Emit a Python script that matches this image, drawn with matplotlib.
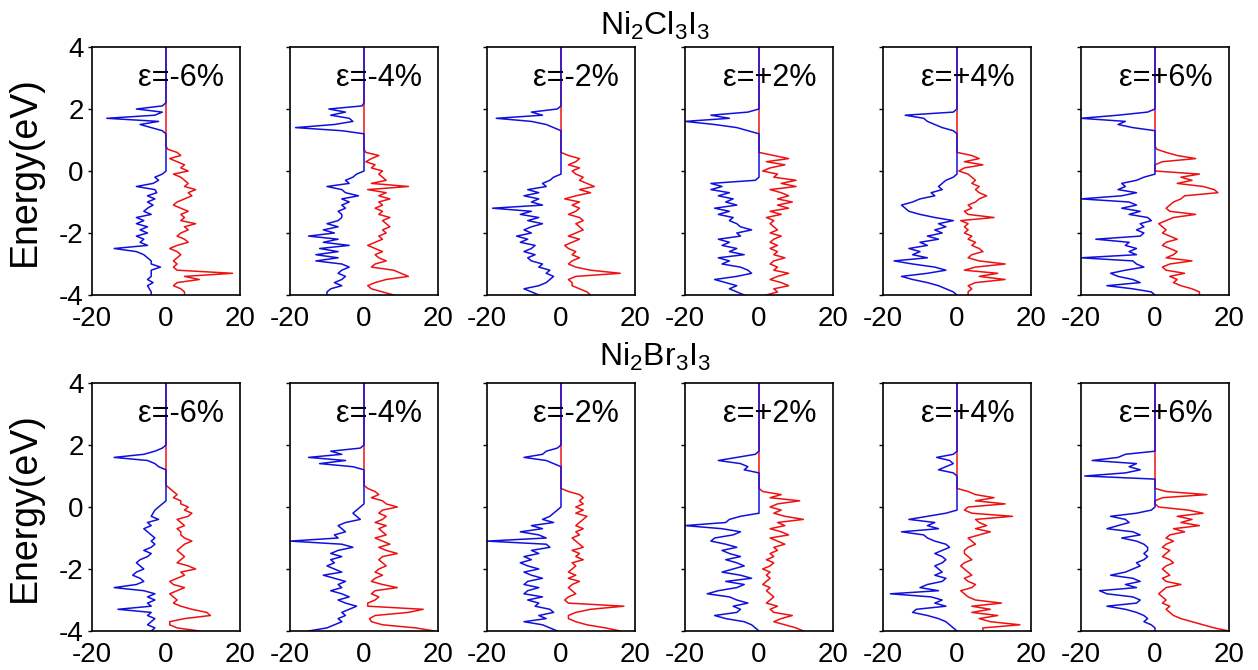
import numpy as np
import matplotlib.pyplot as plt

plt.rcParams['font.family'] = ['Liberation Sans', 'DejaVu Sans']
plt.rcParams['mathtext.default'] = 'regular'
plt.rcParams['axes.unicode_minus'] = False

## Energy grids (eV) ##
# conduction part 2.2 -> 0.8, valence part 0.7 -> -4.0 (step 0.1)
energy_cb = [2.2, 2.1, 2.0, 1.9, 1.8, 1.7, 1.6, 1.5, 1.4, 1.3, 1.2, 1.1, 1.0, 0.9, 0.8]
energy_vb = [0.7, 0.6, 0.5, 0.4, 0.3, 0.2, 0.1, 0.0,
             -0.1, -0.2, -0.3, -0.4, -0.5, -0.6, -0.7, -0.8, -0.9, -1.0,
             -1.1, -1.2, -1.3, -1.4, -1.5, -1.6, -1.7, -1.8, -1.9, -2.0,
             -2.1, -2.2, -2.3, -2.4, -2.5, -2.6, -2.7, -2.8, -2.9, -3.0,
             -3.1, -3.2, -3.3, -3.4, -3.5, -3.6, -3.7, -3.8, -3.9, -4.0]

strain_labels = ['ε=-6%', 'ε=-4%', 'ε=-2%', 'ε=+2%', 'ε=+4%', 'ε=+6%']
row_titles = ['Ni$_2$Cl$_3$I$_3$', 'Ni$_2$Br$_3$I$_3$']

## Ni2Cl3I3 ##
cl_m6_dn_cb = [0, -1, -8, -1, -3, -16, -2, -7, -4, -1, 0, 0, 0, 0, 0]
cl_m6_dn_vb = [0, 0, 0, 0, 0, 0, 0, 0,
               -1, -3, -2, -3.5, -8, -3, -2.5, -5, -3, -5,
               -3.5, -5, -6, -4, -8, -6, -8, -5, -7, -5,
               -8, -6, -7, -5, -14, -8, -6, -5, -4, -4,
               -1.5, -4, -4, -4, -5, -3.5, -5, -4.5, -4, -4]
cl_m6_up_vb = [0.5, 3, 4, 1, 3, 5, 4, 6,
               2, 4, 5, 6, 5, 8, 6, 7, 5, 3,
               2, 4, 6, 4, 5, 4, 8, 5, 6, 4,
               3, 5, 6, 3, 1, 3, 4, 3, 2, 3,
               2, 3, 18, 5, 9, 3, 2, 4, 5, 5]

cl_m4_dn_cb = [0, -0.5, -9.5, -5, -9, -4, -3, -8, -18.5, -6, 0, 0, 0, 0, 0]
cl_m4_dn_vb = [0, 0, 0, 0, 0, 0, 0, 0,
               -2, -3, -5, -4, -10, -6, -5, -1.5, -6, -4,
               -6, -5, -7, -6, -6, -7, -10, -7, -11, -8,
               -15, -7, -11, -4, -12, -7, -13, -7, -13, -6,
               -4, -6, -7, -5, -6, -8, -6, -9, -10, -10]
cl_m4_up_vb = [0, 0.5, 4, 2, 0.5, 3, 2, 5,
               4, 5, 6, 2, 12, 1, 6, 4, 7, 4,
               5, 3, 5, 4, 7, 5, 6, 7, 5, 6,
               4, 5, 3, 1, 3, 5, 3, 4, 6, 3,
               2, 8, 10, 12, 6, 3, 1, 2, 5, 8]

cl_m2_dn_cb = [0, 0, -1, -8, -5, -17.5, -8, -4, -2, 0, 0, 0, 0, 0, 0]
cl_m2_dn_vb = [0, 0, 0, 0, 0, 0, 0, 0,
               0, -2, -3, -5, -4, -9, -6, -10, -6, -8,
               -5, -18.5, -8, -11, -6, -9, -5, -8, -10, -8,
               -12, -9, -11, -7, -8, -10, -7, -9, -8, -5,
               -6, -3, -4, -2, -3, -4, -6, -10, -8, -6]
cl_m2_up_vb = [0, 0, 2, 5, 4, 2, 5, 3,
               4, 6, 5, 7, 9, 5, 8, 4, 1, 5,
               3, 5, 4, 2, 5, 6, 4, 5, 6, 4,
               2, 5, 3, 1, 2, 4, 3, 5, 3, 2,
               4, 8, 16, 4, 2, 3, 3, 5, 7, 8]

cl_p2_dn_cb = [0, 0, 0, -3, -13, -8, -20, -12, -6, -3, 0, 0, 0, 0, 0]
cl_p2_dn_vb = [0, 0, 0, 0, 0, 0, 0, 0,
               0, 0, -1, -13, -10, -13, -8, -11, -7, -9,
               -6, -12, -8, -11, -7, -8, -6, -5, -2, -6,
               -5, -11, -8, -10, -6, -8, -4, -11, -8, -10,
               -5, -3, -2, -6, -12, -9, -6, -8, -6, -4]
cl_p2_up_vb = [0, 0, 4, 8, 2, 7, 3, 1,
               5, 4, 10, 6, 10, 3, 6, 8, 5, 9,
               5, 8, 3, 6, 2, 4, 3, 4, 5, 3,
               6, 4, 3, 5, 3, 5, 4, 7, 4, 3,
               5, 4, 8, 5, 3, 6, 8, 4, 5, 2]

cl_p4_dn_cb = [0, 0, 0, -1, -14, -9, -8, -6, -4, -1, 0, 0, 0, 0, 0]
cl_p4_dn_vb = [0, 0, 0, 0, 0, 0, 0, 0,
               0, -1, -3, -4, -5, -4, -7, -6, -10, -12,
               -15, -14, -13, -10, -6, -1, -5, -3, -6, -4,
               -8, -5, -10, -8, -13, -10, -12, -8, -17, -12,
               -6, -3, -8, -15, -12, -8, -5, -3, -1, 0]
cl_p4_up_vb = [0, 0, 4, 6, 2, 7, 2, 0.5,
               3, 4, 5, 4, 6, 5, 6, 8, 6, 5,
               3, 4, 2, 3, 10, 1, 3, 2, 3, 2,
               4, 3, 5, 4, 6, 7, 4, 3, 6, 13,
               5, 2, 11, 6, 13, 5, 3, 4, 3, 3]

cl_p6_dn_cb = [0, 0, 0, -2, -10, -20, -8, -10, -6, 0, 0, 0, 0, 0, 0]
cl_p6_dn_vb = [0, 0, 0, 0, 0, 0, 0, 0,
               0, -3, -5, -9, -8, -10, -5, -9, -20, -7,
               -5, -9, -4, -7, -2, -1, -4, -3, -5, -3,
               -4, -16, -7, -8, -5, -7, -5, -20, -6, -5,
               -3, -8, -12, -10, -6, -4, -13, -6, -1, 0]
cl_p6_up_vb = [0.5, 3, 6, 11, 2, 0, 0, 0,
               12, 7, 10, 6, 13, 16, 17, 8, 7, 5,
               4, 3, 4, 11, 5, 3, 1, 2, 3, 2,
               4, 6, 3, 2, 4, 6, 5, 3, 10, 4,
               2, 3, 8, 4, 6, 5, 7, 10, 12, 12]

## Ni2Br3I3 ##
br_m6_dn_cb = [0, 0, 0, -1, -3, -6, -14, -5, -3, -2, 0, 0, 0, 0, 0]
br_m6_dn_vb = [0, 0, 0, 0, 0, 0, -1, -2,
               -3, -3.5, -4, -2, -5, -4, -6, -5, -4, -3,
               -4, -3, -4, -6, -4, -5, -7, -8, -7, -6,
               -8, -9, -7, -6, -8, -14, -6, -3, -5, -3,
               -5, -4, -13, -4, -5, -3, -4, -5, -3, -4]
br_m6_up_vb = [0, 1, 2, 3, 2, 4, 4, 6,
               5, 7, 6, 3, 4, 5, 3, 4, 4, 5,
               7, 5, 4, 3, 4, 5, 4, 3, 6, 8,
               4, 5, 3, 1, 2, 5, 3, 1, 2, 3,
               2, 4, 7, 11, 12, 5, 1, 1, 3, 9]

br_m4_dn_cb = [0, 0, 0, -1, -9, -6, -15, -5, -12, -3, 0, 0, 0, 0, 0]
br_m4_dn_vb = [0, 0, 0, 0, 0, 0, 0, -1,
               -2, -3, -2, -1, -5, -7, -6, -5, -8, -7,
               -20, -6, -3, -7, -9, -6, -9, -8, -10, -8,
               -6, -11, -8, -5, -7, -6, -9, -6, -4, -7,
               -5, -2, -4, -6, -5, -7, -6, -8, -10, -15]
br_m4_up_vb = [0, 1, 3, 4, 2, 5, 6, 9,
               5, 4, 6, 5, 3, 6, 4, 5, 6, 3,
               5, 7, 4, 6, 9, 5, 4, 5, 6, 4,
               3, 5, 3, 2, 5, 9, 3, 2, 4, 3,
               1, 1, 16, 12, 3, 1.5, 2, 5, 14, 19]

br_m2_dn_cb = [0, 0, 0, -1, -4, -5, -10, -4, -2, 0, 0, 0, 0, 0, 0]
br_m2_dn_vb = [0, 0, 0, 0, 0, 0, 0, 0,
               -1, -2, -3, -5, -2, -8, -5, -11, -6, -4,
               -20, -4, -3, -8, -6, -10, -8, -11, -9, -6,
               -10, -8, -5, -9, -10, -6, -9, -10, -5, -9,
               -6, -7, -3, -2, -6, -4, -10, -5, -3, -1]
br_m2_up_vb = [0, 0, 2, 5, 6, 5, 6, 4,
               6, 4, 7, 6, 5, 4, 6, 4, 5, 3,
               4, 5, 6, 3, 5, 4, 6, 3, 4, 3,
               2, 4, 2, 5, 3, 2, 3, 4, 2, 1,
               2, 17, 8, 4, 2, 2, 4, 7, 12, 16]

br_p2_dn_cb = [0, 0, 0, 0, 0, -1, -6, -11, -5, -3, -4, 0, 0, 0, 0]
br_p2_dn_vb = [0, 0, 0, 0, 0, 0, 0, 0,
               0, 0, -5, -8, -9, -20, -10, -5, -7, -12,
               -13, -9, -6, -10, -8, -5, -9, -6, -4, -7,
               -10, -5, -2, -9, -4, -6, -11, -14, -8, -6,
               -3, -7, -5, -6, -12, -9, -4, -2, -1, 0]
br_p2_up_vb = [0, 0, 1, 6, 3, 11, 5, 3,
               6, 4, 7, 12, 5, 7, 3, 6, 8, 3,
               5, 7, 4, 5, 3, 4, 2, 4, 3, 1,
               3, 2, 3, 2, 1, 3, 2, 3, 4, 3,
               2, 5, 3, 4, 9, 6, 4, 7, 10, 12]

br_p4_dn_cb = [0, 0, 0, 0, 0, -1, -5.5, -2, -1, -3, -5, -1, 0, 0, 0]
br_p4_dn_vb = [0, 0, 0, 0, 0, 0, 0, 0,
               0, -3, -8, -13, -6, -8, -5, -15, -9, -8,
               -6, -3, -2, -4, -6, -4, -3, -4, -6, -5,
               -4, -6, -3, -4, -8, -10, -5, -18, -7, -4,
               -6, -3, -11, -12, -8, -5, -3, -2, -1, 0]
br_p4_up_vb = [0, 0, 3, 5, 10, 5, 13, 3,
               2, 4, 15, 5, 6, 8, 5, 9, 6, 3,
               4, 5, 3, 2, 2, 3, 4, 2, 1, 2,
               3, 4, 2, 3, 5, 4, 1, 2, 3, 5,
               12, 4, 9, 4, 11, 6, 9, 17, 7, 7]

br_p6_dn_cb = [0, 0, 0, 0, 0, -8, -10, -17, -5, -7, -4, -8, -19, 0, 0]
br_p6_dn_vb = [0, 0, 0, 0, 0, 0, 0, 0,
               -1, -5, -12, -8, -7, -10, -13, -6, -4, -9,
               -5, -3, -2, -2, -3, -2, -3, -5, -4, -6,
               -8, -12, -6, -4, -8, -5, -15, -13, -6, -4,
               -5, -13, -8, -5, -3, -2, -3, -1, 0, 0]
br_p6_up_vb = [0, 0, 3, 14, 2, 0, 0, 1,
               9, 13, 6, 10, 7, 12, 5, 8, 4, 3,
               5, 3, 2, 4, 3, 2, 4, 5, 3, 2,
               3, 4, 2, 3, 7, 3, 2, 1, 2, 3,
               2, 4, 3, 4, 5, 7, 10, 13, 16, 20]

rows = [
    [(cl_m6_dn_cb, cl_m6_dn_vb, cl_m6_up_vb), (cl_m4_dn_cb, cl_m4_dn_vb, cl_m4_up_vb),
     (cl_m2_dn_cb, cl_m2_dn_vb, cl_m2_up_vb), (cl_p2_dn_cb, cl_p2_dn_vb, cl_p2_up_vb),
     (cl_p4_dn_cb, cl_p4_dn_vb, cl_p4_up_vb), (cl_p6_dn_cb, cl_p6_dn_vb, cl_p6_up_vb)],
    [(br_m6_dn_cb, br_m6_dn_vb, br_m6_up_vb), (br_m4_dn_cb, br_m4_dn_vb, br_m4_up_vb),
     (br_m2_dn_cb, br_m2_dn_vb, br_m2_up_vb), (br_p2_dn_cb, br_p2_dn_vb, br_p2_up_vb),
     (br_p4_dn_cb, br_p4_dn_vb, br_p4_up_vb), (br_p6_dn_cb, br_p6_dn_vb, br_p6_up_vb)],
]

## Figure layout (pixels -> figure fractions) ##
W, H = 1258, 670
fig = plt.figure(figsize=(W / 100, H / 100), dpi=100)
lefts = [92, 290, 487, 685, 883, 1081]
row_top = [47, 383]
ax_w, ax_h = 148, 248
title_base = [35, 366]

for r in range(2):
    fig.text(655 / W, 1 - title_base[r] / H, row_titles[r], ha='center',
             va='baseline', fontsize=23)
    for c in range(6):
        dn_cb, dn_vb, up_vb = rows[r][c]
        ax = fig.add_axes([lefts[c] / W, 1 - (row_top[r] + ax_h) / H, ax_w / W, ax_h / H])
        # full energy axis: top of window, conduction part, valence part
        e = np.r_[4.0, energy_cb, energy_vb]
        dn = np.r_[0, dn_cb, dn_vb]
        up = np.r_[0, np.zeros(len(energy_cb)), up_vb]
        ax.plot(up, e, color='#ee1111', lw=1.1)   # spin up in red (drawn first)
        ax.plot(dn, e, color='#1010dd', lw=1.1)   # spin down in blue on top
        ax.set_xlim(-20, 20)
        ax.set_ylim(-4, 4)
        ax.set_xticks([-20, 0, 20])
        ax.set_yticks([-4, -2, 0, 2, 4])
        ax.tick_params(direction='out', length=3, width=1, labelsize=20, pad=3)
        ax.tick_params(axis='x', length=0, pad=8)
        for s in ax.spines.values():
            s.set_linewidth(1.2)
        if c == 0:
            ax.set_ylabel('Energy(eV)', fontsize=27)
            ax.yaxis.set_label_coords(-0.33, 0.5)
        else:
            ax.tick_params(labelleft=False)
        ax.text(0.89, 0.875, strain_labels[c], transform=ax.transAxes,
                ha='right', va='center', fontsize=22)

fig.savefig('out.png', dpi=100)
